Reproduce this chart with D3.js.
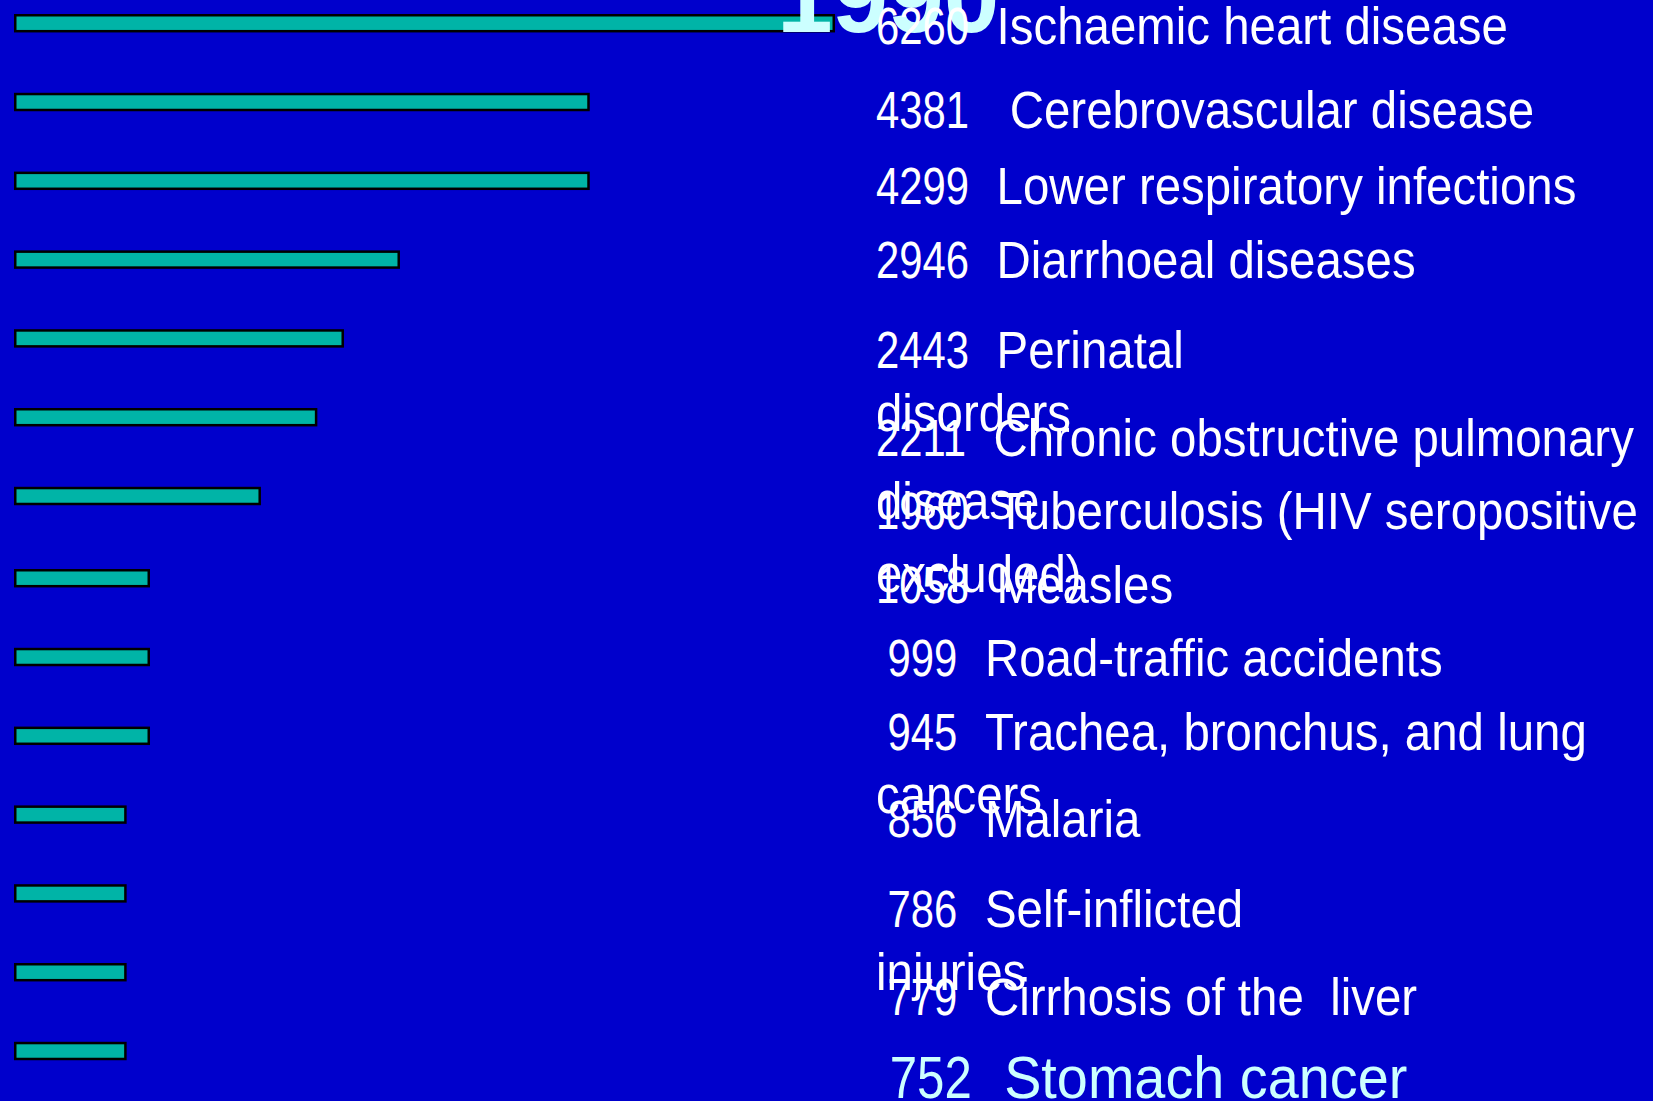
<!DOCTYPE html>
<html>
<head>
<meta charset="utf-8">
<script src="https://cdn.jsdelivr.net/npm/d3@7"></script>
<style>
  html, body { margin: 0; padding: 0; background: #0000cc; overflow: hidden; }
  svg { display: block; }
  text { white-space: pre; }
</style>
</head>
<body>
<svg id="chart" width="1653" height="1101"></svg>
<script>
// ---- data ----
const yearLabel = "1990";
const causes = [
  "Ischaemic heart disease",
  " Cerebrovascular disease",
  "Lower respiratory infections",
  "Diarrhoeal diseases",
  "Perinatal\ndisorders",
  "Chronic obstructive pulmonary\ndisease",
  "Tuberculosis (HIV seropositive\nexcluded)",
  "Measles",
  "Road-traffic accidents",
  "Trachea, bronchus, and lung\ncancers",
  "Malaria",
  "Self-inflicted\ninjuries",
  "Cirrhosis of the  liver",
  "Stomach cancer"
];
// deaths (thousands) as printed in the labels
const deaths = [6260, 4381, 4299, 2946, 2443, 2211, 1960, 1058, 999, 945, 856, 786, 779, 752];
// bar lengths as drawn (same units, estimated from the bars)
const barValues = [6260, 4390, 4390, 2943, 2516, 2313, 1883, 1037, 1037, 1037, 859, 859, 859, 859];
// the bars are drawn as two blocks of seven
const blocks = [0, 0, 0, 0, 0, 0, 0, 1, 1, 1, 1, 1, 1, 1];

// ---- layout ----
const W = 1653, H = 1101;
const bg = "#0000cc", barFill = "#00b4a7", light = "#ccffff";
const strokeW = 2.5;
const labelX = 876;
const labelBaselines = [44, 128, 204, 278, 368, 456, 529, 603, 676, 750, 837, 927, 1015, 1098];
const labelSizes = [51, 51, 51, 51, 51, 51, 51, 51, 51, 51, 51, 51, 51, 60];
const lineGap = 62.5;
const labelFont = '"Liberation Sans", Arial, sans-serif';
const sxNum = 0.82, sxText = 0.93;

const svg = d3.select("#chart");
svg.append("rect").attr("width", W).attr("height", H).attr("fill", bg);

const x = d3.scaleLinear().domain([0, 6260]).range([14, 835]);
const step = 78.8, padIn = 0.766;
const idxA = d3.range(0, 7), idxB = d3.range(7, 14);
const yA = d3.scaleBand().domain(idxA).range([14, 14 + step * (7 - padIn)]).paddingInner(padIn).paddingOuter(0);
const yB = d3.scaleBand().domain(idxB).range([569, 569 + step * (7 - padIn)]).paddingInner(padIn).paddingOuter(0);
const yOf = i => (blocks[i] === 0 ? yA(i) : yB(i));
const bw = yA.bandwidth();

svg.append("g").selectAll("rect")
  .data(barValues)
  .join("rect")
  .attr("x", x(0) + strokeW / 2)
  .attr("y", (d, i) => yOf(i) + strokeW / 2)
  .attr("width", d => x(d) - x(0) - strokeW)
  .attr("height", bw - strokeW)
  .attr("fill", barFill)
  .attr("stroke", "#000")
  .attr("stroke-width", strokeW);

// year title (clipped at the top in the original)
svg.append("text")
  .attr("x", 777)
  .attr("y", 32)
  .attr("fill", light)
  .attr("font-family", '"Liberation Sans", Arial, sans-serif')
  .attr("font-weight", "bold")
  .attr("font-size", 100)
  .text(yearLabel);

// labels
const labels = svg.append("g");
causes.forEach((c, i) => {
  const fs = labelSizes[i];
  const fill = i === causes.length - 1 ? light : "#ffffff";
  const num = String(deaths[i]).padStart(4, " ");
  const lines = c.split("\n");
  const g = labels.append("g").attr("transform", `translate(${labelX},${labelBaselines[i]})`);
  const nt = g.append("text")
    .attr("transform", `scale(${sxNum},1)`)
    .attr("fill", fill)
    .attr("font-family", labelFont)
    .attr("font-size", fs)
    .text(num);
  const numEnd = nt.node().getComputedTextLength() * sxNum;
  const gap = 0.54 * fs; // two spaces
  g.append("text")
    .attr("transform", `translate(${numEnd + gap},0) scale(${sxText},1)`)
    .attr("fill", fill)
    .attr("font-family", labelFont)
    .attr("font-size", fs)
    .text(lines[0]);
  lines.slice(1).forEach((ln, k) => {
    g.append("text")
      .attr("transform", `translate(0,${(k + 1) * lineGap}) scale(${sxText},1)`)
      .attr("fill", fill)
      .attr("font-family", labelFont)
      .attr("font-size", fs)
      .text(ln);
  });
});
</script>
</body>
</html>
